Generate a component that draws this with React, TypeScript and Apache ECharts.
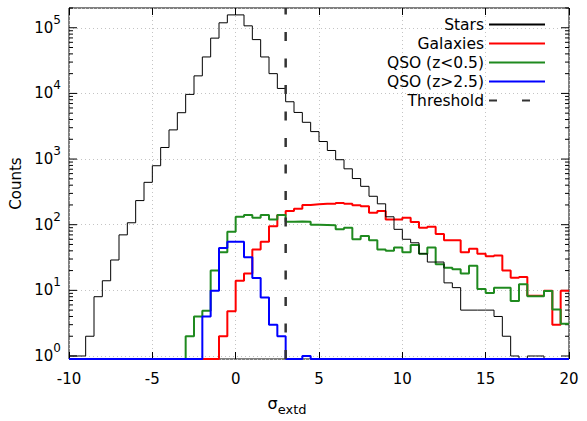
import React, { useEffect, useRef } from 'react';
import * as echarts from 'echarts';

// Histogram binning (bin start = BIN_START + i * BIN_WIDTH)
const BIN_START = -10;
const BIN_WIDTH = 0.5;
const X_MIN = -10;
const X_MAX = 20;
const X_INTERVAL = 5;
const Y_MIN = 0.9;
const Y_MAX = 200000;
const THRESHOLD = 3;

const seriesNames = ['Stars', 'Galaxies', 'QSO (z<0.5)', 'QSO (z>2.5)', 'Threshold'];

const stars = [
  1, 1, 2, 8, 14, 29, 70, 107, 233, 442,
  791, 1500, 2780, 5080, 9660, 18500, 35900, 69500, 119000, 157000,
  157000, 107000, 66000, 35900, 20000, 11900, 7460, 5130, 3630, 2620,
  1850, 1350, 977, 710, 505, 384, 271, 208, 132, 85,
  60, 53, 36, 27, 27, 13, 11, 5, 5, 5,
  5, 4, 2, 1, 0, 1, 1, 0, 0, 0,
];

const galaxies = [
  0, 0, 0, 0, 0, 0, 0, 0, 0, 0,
  0, 0, 0, 0, 0, 0, 0, 0, 2, 4.8,
  14, 18, 42, 55, 95, 140, 161, 175, 200, 205,
  208, 208, 215, 208, 198, 191, 152, 161, 120, 120,
  128, 110, 90, 93, 72, 58, 58, 38, 43, 36,
  33, 34, 20, 15.5, 16, 8.3, 8.3, 9.9, 3, 9.9,
];

const qsoLow = [
  0, 0, 0, 0, 0, 0, 0, 0, 0, 0,
  0, 0, 0, 0, 2, 4, 4.9, 20, 38, 78,
  132, 140, 128, 140, 120, 140, 111, 112, 111, 100,
  99, 98, 85, 90, 60, 67, 58, 42, 40, 45,
  38, 49, 36, 45, 25, 22, 21, 18, 23.6, 10.5,
  9.1, 11, 11, 6.9, 12.4, 8.1, 8.1, 9.8, 5.1, 3.1,
];

const qsoHigh = [
  0, 0, 0, 0, 0, 0, 0, 0, 0, 0,
  0, 0, 0, 0, 0, 0, 4, 9.9, 44, 55,
  55, 32, 15.4, 7.8, 3, 2, 0, 0, 1, 0,
  0, 0, 0, 0, 0, 0, 0, 0, 0, 0,
  0, 0, 0, 0, 0, 0, 0, 0, 0, 0,
  0, 0, 0, 0, 0, 0, 0, 0, 0, 0,
];

const FONT = "'DejaVu Sans', sans-serif";

function toSteps(counts: number[]) {
  const pts = counts.map((c, i) => [BIN_START + i * BIN_WIDTH, c > 0 ? c : Y_MIN]);
  const last = counts[counts.length - 1];
  pts.push([BIN_START + counts.length * BIN_WIDTH, last > 0 ? last : Y_MIN]);
  return pts;
}

function yTicks() {
  const out: number[][] = [];
  for (let k = 0; k <= 5; k++) {
    for (let m = 1; m <= 9; m++) {
      const v = m * Math.pow(10, k);
      if (v <= Y_MAX) out.push([X_MIN, v, m === 1 ? 1 : 0]);
    }
  }
  return out;
}

function stepSeries(name: string, counts: number[], color: string, width: number) {
  return {
    name,
    type: 'line',
    step: 'end',
    data: toSteps(counts),
    symbol: 'none',
    showSymbol: false,
    lineStyle: { color, width },
    itemStyle: { color },
    emphasis: { disabled: true },
  };
}

export default function App() {
  const ref = useRef<HTMLDivElement>(null);
  useEffect(() => {
    if (!ref.current) return;
    const chart = echarts.init(ref.current, undefined, { renderer: 'svg' });
    const option: any = {
      animation: false,
      grid: {
        left: 69, right: 18, top: 8, bottom: 61,
        show: true, borderColor: '#000', borderWidth: 1, backgroundColor: 'transparent',
      },
      legend: {
        data: [
          seriesNames[0], seriesNames[1], seriesNames[2], seriesNames[3],
          { name: seriesNames[4], lineStyle: { type: [8, 25] } },
        ],
        orient: 'vertical',
        align: 'right',
        right: 36,
        top: 11.5,
        itemWidth: 56,
        itemHeight: 14,
        itemGap: 3,
        selectedMode: false,
        itemStyle: { opacity: 0, borderWidth: 0 },
        textStyle: { fontFamily: FONT, fontSize: 15.5, color: '#000', lineHeight: 14 },
      },
      xAxis: [
        {
          type: 'value', min: X_MIN, max: X_MAX, interval: X_INTERVAL,
          position: 'bottom',
          axisLine: { show: false },
          axisTick: { show: true, inside: true, length: 7, lineStyle: { color: '#000' } },
          axisLabel: { fontFamily: FONT, fontSize: 15, color: '#000', margin: 12 },
          splitLine: { show: true, lineStyle: { color: '#c4c4c4', type: [1, 3], width: 1 } },
          name: '{s|σ}{sub|extd}',
          nameLocation: 'middle',
          nameGap: 32,
          nameTextStyle: {
            padding: [0, 64, 0, 0],
            rich: {
              s: { fontFamily: FONT, fontSize: 16, color: '#000' },
              sub: { fontFamily: FONT, fontSize: 13, color: '#000', padding: [12, 0, 0, 0] },
            },
          },
        },
        {
          type: 'value', min: X_MIN, max: X_MAX, interval: X_INTERVAL,
          position: 'top',
          axisLine: { show: false },
          axisTick: { show: true, inside: true, length: 7, lineStyle: { color: '#000' } },
          axisLabel: { show: false },
          splitLine: { show: false },
        },
      ],
      yAxis: {
        type: 'log', logBase: 10, min: Y_MIN, max: Y_MAX,
        axisLine: { show: false },
        axisTick: { show: false },
        minorTick: { show: false },
        splitLine: { show: true, lineStyle: { color: '#c4c4c4', type: [1, 3], width: 1 } },
        axisLabel: {
          margin: 8,
          formatter: (v: number) => {
            const l = Math.log10(v);
            const e = Math.round(l);
            if (Math.abs(l - e) > 1e-6) return '';
            return `{b|10}{s|${e}}`;
          },
          rich: {
            b: { fontFamily: FONT, fontSize: 15, color: '#000' },
            s: { fontFamily: FONT, fontSize: 12, color: '#000', padding: [0, 0, 16, 0] },
          },
        },
        name: 'Counts',
        nameLocation: 'middle',
        nameGap: 41,
        nameTextStyle: { fontFamily: FONT, fontSize: 15, color: '#000' },
      },
      series: [
        stepSeries(seriesNames[1], galaxies, '#ff0000', 2),
        stepSeries(seriesNames[2], qsoLow, '#1f8a1f', 2),
        stepSeries(seriesNames[0], stars, '#000000', 1),
        stepSeries(seriesNames[3], qsoHigh, '#0000ff', 2),
        {
          name: seriesNames[4],
          type: 'line',
          data: [[THRESHOLD, Y_MIN], [THRESHOLD, Y_MAX]],
          symbol: 'none',
          showSymbol: false,
          lineStyle: { color: '#333333', width: 2.5, type: [9, 17.5] },
          itemStyle: { color: '#333333' },
          emphasis: { disabled: true },
        },
        {
          name: 'yticks',
          type: 'custom',
          silent: true,
          data: yTicks(),
          renderItem: (params: any, api: any) => {
            const v = api.value(1);
            const len = api.value(2) ? 8 : 4;
            const pL = api.coord([X_MIN, v]);
            const pR = api.coord([X_MAX, v]);
            return {
              type: 'group',
              children: [
                { type: 'line', shape: { x1: pL[0], y1: pL[1], x2: pL[0] + len, y2: pL[1] }, style: { stroke: '#000', lineWidth: 1 } },
                { type: 'line', shape: { x1: pR[0], y1: pR[1], x2: pR[0] - len, y2: pR[1] }, style: { stroke: '#000', lineWidth: 1 } },
              ],
            };
          },
        },
      ],
    };
    chart.setOption(option);
    return () => chart.dispose();
  }, []);
  return <div ref={ref} style={{ position: 'absolute', left: 0, top: 0, width: 587, height: 421 }} />;
}
